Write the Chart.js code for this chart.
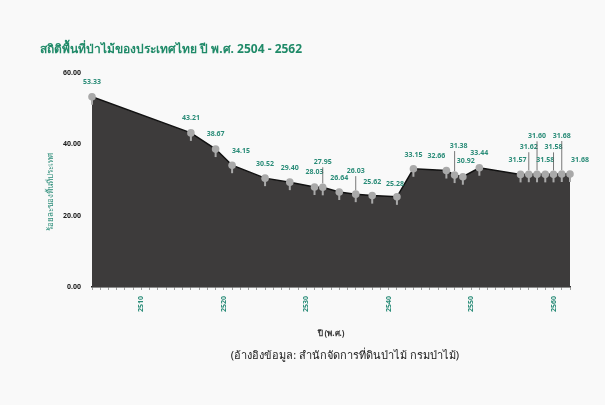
<!DOCTYPE html>
<html>
<head>
<meta charset="utf-8">
<script src="https://cdn.jsdelivr.net/npm/chart.js@4"></script>
<style>
html,body{margin:0;padding:0;background:#f9f9f9;}
#wrap{position:relative;width:605px;height:405px;}
</style>
</head>
<body>
<div id="wrap"><canvas id="c" width="605" height="405"></canvas></div>
<script>
const years = [2504,2516,2519,2521,2525,2528,2531,2532,2534,2536,2538,2541,2543,2547,2548,2549,2551,2556,2557,2558,2559,2560,2561,2562];
const forestPct = [53.33,43.21,38.67,34.15,30.52,29.40,28.03,27.95,26.64,26.03,25.62,25.28,33.15,32.66,31.38,30.92,33.44,31.57,31.62,31.60,31.58,31.58,31.68,31.68];
const yTicks = [0,20,40,60];
const xTickYears = [2510,2520,2530,2540,2550,2560];
const titleText = 'สถิติพื้นที่ป่าไม้ของประเทศไทย ปี พ.ศ. 2504 - 2562';
const yTitle = 'ร้อยละของพื้นที่ประเทศ';
const xTitle = 'ปี (พ.ศ.)';
const sourceText = '(อ้างอิงข้อมูล: สำนักจัดการที่ดินป่าไม้ กรมป่าไม้)';

const FONT = "'Noto Sans', 'DejaVu Sans', sans-serif";
const TEAL = '#2a8c78';

// label offsets (dx, dy) relative to each point
const labelOffsets = [
 [0,-15],[0,-15],[0,-15],[9,-14],[0,-14],[0,-14],[0,-15],[0,-25],[0,-14],[0,-23],[0,-14],[-2,-13],
 [0,-14],[-10,-15],[4,-29],[3,-16],[0,-15],
 [-3,-14],[0,-27],[0,-38],[0,-14],[0,-27],[0,-38],[10,-14]
];

const extras = {
  id: 'extras',
  afterDatasetsDraw(chart) {
    const ctx = chart.ctx;
    const meta = chart.getDatasetMeta(0);
    const ds = chart.data.datasets[0];
    ctx.save();
    // pins
    meta.data.forEach((pt) => {
      ctx.strokeStyle = '#a9a9a9';
      ctx.lineWidth = 2;
      ctx.beginPath();
      ctx.moveTo(pt.x, pt.y);
      ctx.lineTo(pt.x, pt.y + 8);
      ctx.stroke();
      ctx.fillStyle = '#a9a9a9';
      ctx.beginPath();
      ctx.arc(pt.x, pt.y, 3.8, 0, Math.PI * 2);
      ctx.fill();
    });
    // labels
    ctx.font = "bold 7px " + FONT;
    ctx.textAlign = 'center';
    ctx.textBaseline = 'middle';
    meta.data.forEach((pt, i) => {
      const off = labelOffsets[i] || [0, -15];
      const lx = pt.x + off[0], ly = pt.y + off[1];
      if (off[1] < -20) {
        ctx.strokeStyle = '#555';
        ctx.lineWidth = 0.8;
        ctx.beginPath();
        ctx.moveTo(pt.x, ly + 5);
        ctx.lineTo(pt.x, pt.y - 4);
        ctx.stroke();
      }
      ctx.fillStyle = TEAL;
      ctx.fillText(ds.data[i].y.toFixed(2), lx, ly);
    });
    ctx.restore();
  },
  afterDraw(chart) {
    const ctx = chart.ctx;
    ctx.save();
    ctx.fillStyle = '#1f8a68';
    ctx.font = "bold 12px " + FONT;
    ctx.textAlign = 'left';
    ctx.textBaseline = 'middle';
    ctx.fillText(titleText, 40, 50);
    ctx.fillStyle = '#222';
    ctx.font = "11px " + FONT;
    ctx.textAlign = 'center';
    ctx.fillText(sourceText, 345, 356);
    // y axis title (rotated)
    ctx.translate(51, 192);
    ctx.rotate(-Math.PI / 2);
    ctx.fillStyle = TEAL;
    ctx.font = "8px " + FONT;
    ctx.fillText(yTitle, 0, 0);
    ctx.restore();
  }
};

new Chart(document.getElementById('c'), {
  type: 'line',
  data: {
    datasets: [{
      data: years.map((y, i) => ({ x: y, y: forestPct[i] })),
      borderColor: '#111',
      borderWidth: 1.5,
      backgroundColor: '#3d3b3b',
      fill: 'origin',
      tension: 0,
      pointRadius: 0,
      pointHoverRadius: 0
    }]
  },
  options: {
    responsive: false,
    animation: false,
    events: [],
    layout: { padding: { left: 42, right: 35, top: 73, bottom: 62 } },
    plugins: { legend: { display: false }, tooltip: { enabled: false }, title: { display: false } },
    scales: {
      x: {
        type: 'linear',
        min: 2504,
        max: 2562,
        afterBuildTicks(scale) {
          const t = [];
          for (let v = 2504; v <= 2562; v++) t.push({ value: v });
          scale.ticks = t;
        },
        afterFit(scale) { scale.height = 56; },
        grid: { drawOnChartArea: false, drawTicks: true, tickLength: 3, color: '#888', lineWidth: 0.8 },
        border: { display: true, color: '#222', width: 1.5 },
        ticks: {
          autoSkip: false,
          minRotation: 90,
          maxRotation: 90,
          padding: 6,
          color: TEAL,
          font: { size: 7, family: FONT, weight: 'bold' },
          callback: (v) => xTickYears.includes(v) ? String(v) : ''
        },
        title: { display: true, text: xTitle, color: '#333', font: { size: 8, family: FONT, weight: 'bold' }, padding: { top: 2, bottom: 4 } }
      },
      y: {
        min: 0,
        max: 60,
        afterBuildTicks(scale) { scale.ticks = yTicks.map(v => ({ value: v })); },
        afterFit(scale) { scale.width = 50; },
        grid: { display: false },
        border: { display: false },
        ticks: {
          padding: 3,
          color: '#222',
          font: { size: 7, family: FONT, weight: 'bold' },
          callback: (v) => Number(v).toFixed(2)
        },
        title: { display: false }
      }
    }
  },
  plugins: [extras]
});
</script>
</body>
</html>
